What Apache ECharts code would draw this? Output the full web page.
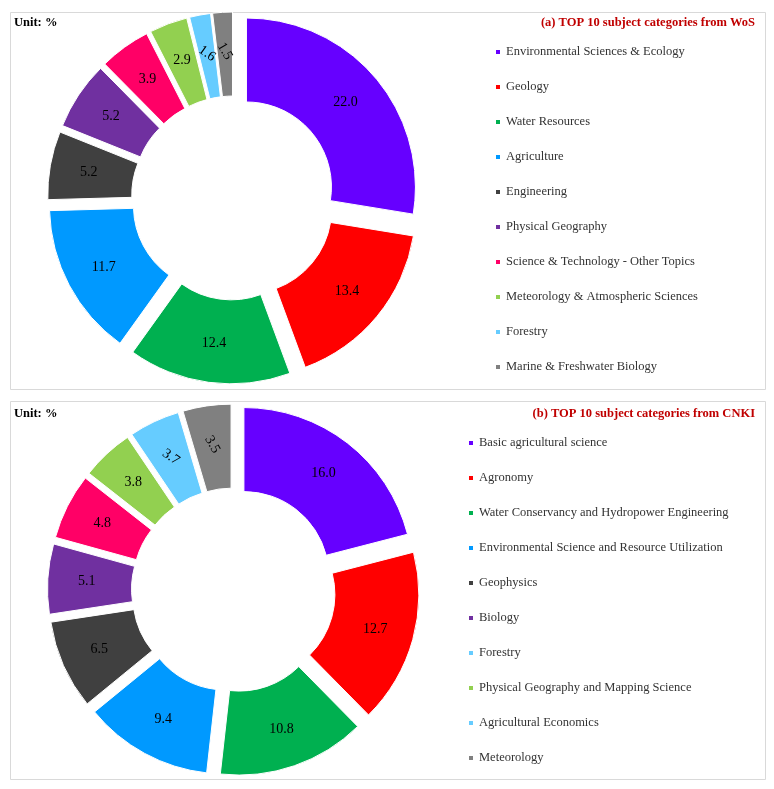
<!DOCTYPE html>
<html>
<head>
<meta charset="utf-8">
<script src="https://cdn.jsdelivr.net/npm/echarts@6/dist/echarts.min.js"></script>
<style>
  html, body { margin: 0; padding: 0; background: #fff; }
  #myChart { width: 774px; height: 789px; }
</style>
</head>
<body>
<div id="myChart"></div>
<script>
  // (a) WoS
  var wosNames = ['Environmental Sciences & Ecology', 'Geology', 'Water Resources', 'Agriculture',
    'Engineering', 'Physical Geography', 'Science & Technology - Other Topics',
    'Meteorology & Atmospheric Sciences', 'Forestry', 'Marine & Freshwater Biology'];
  var wosValues = [22.0, 13.4, 12.4, 11.7, 5.2, 5.2, 3.9, 2.9, 1.6, 1.5];

  // (b) CNKI
  var cnkiNames = ['Basic agricultural science', 'Agronomy', 'Water Conservancy and Hydropower Engineering',
    'Environmental Science and Resource Utilization', 'Geophysics', 'Biology', 'Forestry',
    'Physical Geography and Mapping Science', 'Agricultural Economics', 'Meteorology'];
  var cnkiValues = [16.0, 12.7, 10.8, 9.4, 6.5, 5.1, 4.8, 3.8, 3.7, 3.5];

  var colors = ['#6600FF', '#FF0000', '#00B050', '#0099FF', '#404040',
    '#7030A0', '#FF0066', '#92D050', '#66CCFF', '#808080'];

  var serif = '"Liberation Serif", "Times New Roman", serif';

  // tilted labels on the thin slices (index -> degrees)
  var labelRotate = { 8: -35, 9: -60 };

  function buildData(names, values) {
    return names.map(function (n, i) {
      var item = {
        name: n,
        value: values[i],
        selected: true,
        itemStyle: { color: colors[i] }
      };
      if (labelRotate[i] !== undefined) {
        item.label = { rotate: labelRotate[i] };
      }
      return item;
    });
  }

  function pieSeries(names, values, center) {
    return {
      type: 'pie',
      center: center,
      radius: [85, 169],
      startAngle: 90,
      clockwise: true,
      selectedMode: 'multiple',
      selectedOffset: 17,
      animation: false,
      itemStyle: { borderColor: '#fff', borderWidth: 1 },
      select: { itemStyle: { borderColor: '#fff', borderWidth: 1 } },
      emphasis: { scale: false, disabled: true },
      label: {
        show: true,
        position: 'inside',
        color: '#000',
        fontFamily: serif,
        fontSize: 14,
        formatter: function (p) { return p.value.toFixed(1); }
      },
      labelLayout: { hideOverlap: false },
      labelLine: { show: false },
      data: buildData(names, values)
    };
  }

  function legendAt(names, left, top) {
    return {
      orient: 'vertical',
      left: left,
      top: top,
      padding: 0,
      data: names,
      icon: 'rect',
      itemWidth: 6,
      itemHeight: 6,
      itemGap: 21,
      selectedMode: false,
      textStyle: { fontFamily: serif, fontSize: 12.5, color: '#333', lineHeight: 14 }
    };
  }

  var titleStyle = { fontFamily: serif, fontSize: 12.5, fontWeight: 'bold', color: '#C00000' };
  var unitStyle = { fontFamily: serif, fontSize: 12.5, fontWeight: 'bold', color: '#000' };

  var myChart = echarts.init(document.getElementById('myChart'));
  myChart.setOption({
    animation: false,
    backgroundColor: '#fff',
    title: [
      { text: '(a) TOP 10 subject categories from WoS', right: 19, top: 16, padding: 0, textStyle: titleStyle },
      { text: 'Unit: %', left: 14, top: 16, padding: 0, textStyle: unitStyle },
      { text: '(b) TOP 10 subject categories from CNKI', right: 19, top: 407, padding: 0, textStyle: titleStyle },
      { text: 'Unit: %', left: 14, top: 407, padding: 0, textStyle: unitStyle }
    ],
    graphic: [
      { type: 'rect', shape: { x: 10.5, y: 12.5, width: 755, height: 377 }, style: { fill: 'none', stroke: '#D9D9D9', lineWidth: 1 }, z: -1 },
      { type: 'rect', shape: { x: 10.5, y: 401.5, width: 755, height: 378 }, style: { fill: 'none', stroke: '#D9D9D9', lineWidth: 1 }, z: -1 }
    ],
    legend: [
      legendAt(wosNames, 494, 45),
      legendAt(cnkiNames, 467, 436)
    ],
    series: [
      pieSeries(wosNames, wosValues, [233.5, 198]),
      pieSeries(cnkiNames, cnkiValues, [233.5, 590])
    ]
  });
</script>
</body>
</html>
